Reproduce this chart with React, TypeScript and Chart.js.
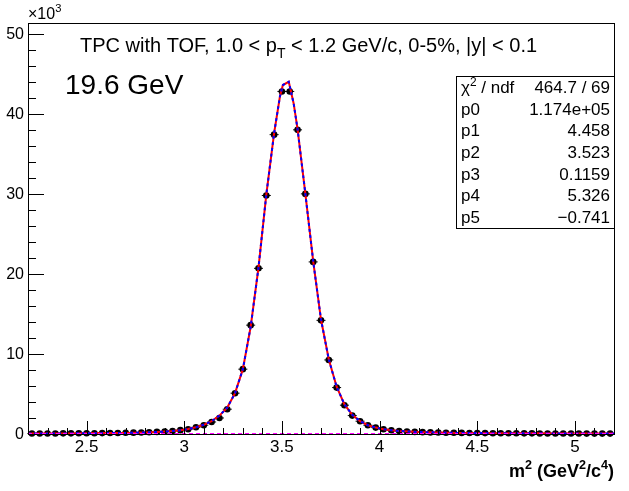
import React, { useEffect, useRef } from "react";
import { Chart, registerables } from "chart.js";
Chart.register(...registerables);

// m^2 bin centers (GeV^2/c^4)
const binCenters = [
  2.22, 2.26, 2.30, 2.34, 2.38, 2.42, 2.46, 2.50, 2.54, 2.58, 2.62, 2.66, 2.70, 2.74, 2.78,
  2.82, 2.86, 2.90, 2.94, 2.98, 3.02, 3.06, 3.10, 3.14, 3.18, 3.22, 3.26, 3.30, 3.34, 3.38,
  3.42, 3.46, 3.50, 3.54, 3.58, 3.62, 3.66, 3.70, 3.74, 3.78, 3.82, 3.86, 3.90, 3.94, 3.98,
  4.02, 4.06, 4.10, 4.14, 4.18, 4.22, 4.26, 4.30, 4.34, 4.38, 4.42, 4.46, 4.50, 4.54, 4.58,
  4.62, 4.66, 4.70, 4.74, 4.78, 4.82, 4.86, 4.90, 4.94, 4.98, 5.02, 5.06, 5.10, 5.14, 5.18,
];
// counts (x10^3)
const counts = [
  0.06, 0.06, 0.07, 0.07, 0.08, 0.08, 0.09, 0.09, 0.10, 0.11, 0.12, 0.13, 0.15, 0.17, 0.19,
  0.22, 0.26, 0.31, 0.38, 0.48, 0.59, 0.84, 1.1, 1.5, 2.0, 3.1, 5.1, 8.1, 13.6, 20.7,
  29.8, 37.4, 42.8, 42.8, 38.0, 30.0, 21.5, 14.2, 9.25, 5.8, 3.6, 2.3, 1.6, 1.1, 0.8,
  0.6, 0.46, 0.37, 0.3, 0.26, 0.23, 0.2, 0.18, 0.16, 0.15, 0.14, 0.13, 0.12, 0.11, 0.1,
  0.1, 0.09, 0.09, 0.08, 0.08, 0.07, 0.07, 0.07, 0.06, 0.06, 0.06, 0.05, 0.05, 0.05, 0.05,
];
// fit curve
const fitM2 = [
  2.2, 2.4, 2.6, 2.7, 2.8, 2.86, 2.9, 2.94, 2.98, 3.02, 3.06, 3.1, 3.14, 3.18, 3.22, 3.26,
  3.3, 3.34, 3.38, 3.42, 3.46, 3.49, 3.505, 3.535, 3.56, 3.58, 3.62, 3.66, 3.7, 3.74, 3.78,
  3.82, 3.86, 3.9, 3.94, 3.98, 4.02, 4.06, 4.1, 4.2, 4.4, 4.6, 4.8, 5.0, 5.2,
];
const fitCounts = [
  0.05, 0.07, 0.11, 0.14, 0.2, 0.25, 0.31, 0.38, 0.48, 0.62, 0.84, 1.15, 1.6, 2.3, 3.3, 5.1,
  8.1, 13.4, 20.8, 29.9, 37.6, 42.2, 43.6, 44.0, 41.3, 38.1, 30.0, 21.6, 14.3, 9.3, 5.9,
  3.7, 2.4, 1.6, 1.1, 0.8, 0.6, 0.47, 0.38, 0.25, 0.14, 0.1, 0.08, 0.06, 0.05,
];
const baselineM2 = [2.2, 5.2];
const baselineCounts = [0, 0];

const yMajorTicks = [0, 10, 20, 30, 40, 50];
const yTickLabels = ["0", "10", "20", "30", "40", "50"];
const xMajorTicks = [2.5, 3, 3.5, 4, 4.5, 5];
const xTickLabels = ["2.5", "3", "3.5", "4", "4.5", "5"];
const statLabels = ["p0", "p1", "p2", "p3", "p4", "p5"];
const statValues = ["1.174e+05", "4.458", "3.523", "0.1159", "5.326", "\u22120.741"];
const chiValue = "464.7 / 69";

const FONT = "'Liberation Sans', Arial, Helvetica, sans-serif";

type Part = { t: string; sup?: boolean; sub?: boolean };

function drawRich(ctx: CanvasRenderingContext2D, parts: Part[], x: number, y: number, size: number, bold: boolean, align: "left" | "right") {
  const setFont = (p: Part) => {
    const s = p.sup || p.sub ? size * 0.7 : size;
    ctx.font = `${bold ? "bold " : ""}${s}px ${FONT}`;
  };
  let total = 0;
  parts.forEach((p) => {
    setFont(p);
    total += ctx.measureText(p.t).width;
  });
  let cx = align === "left" ? x : x - total;
  ctx.textAlign = "left";
  ctx.textBaseline = "alphabetic";
  parts.forEach((p) => {
    setFont(p);
    const dy = p.sup ? -size * 0.42 : p.sub ? size * 0.3 : 0;
    ctx.fillText(p.t, cx, y + dy);
    cx += ctx.measureText(p.t).width;
  });
}

const rootPlugin = {
  id: "rootStyle",
  afterDraw(chart: any) {
    const ctx = chart.ctx as CanvasRenderingContext2D;
    const xs = chart.scales.x;
    const ys = chart.scales.y;
    const a = chart.chartArea;
    ctx.save();
    ctx.strokeStyle = "#000";
    ctx.fillStyle = "#000";
    ctx.lineWidth = 1;
    // frame
    ctx.strokeRect(Math.round(a.left) + 0.5, Math.round(a.top) + 0.5, Math.round(a.right - a.left), Math.round(a.bottom - a.top));
    // y ticks
    ctx.beginPath();
    for (let v = 0; v <= ys.max + 1e-9; v += 2) {
      const py = Math.round(ys.getPixelForValue(v)) + 0.5;
      const major = Math.abs(v % 10) < 1e-9;
      ctx.moveTo(a.left, py);
      ctx.lineTo(a.left + (major ? 16 : 8), py);
    }
    // x ticks
    for (let i = 0; ; i++) {
      const v = 2.3 + i * 0.1;
      if (v > xs.max + 1e-9) break;
      const px = Math.round(xs.getPixelForValue(v)) + 0.5;
      const major = xMajorTicks.some((m) => Math.abs(m - v) < 1e-6);
      ctx.moveTo(px, a.bottom);
      ctx.lineTo(px, a.bottom - (major ? 13 : 6));
    }
    ctx.stroke();
    // y labels
    ctx.font = `16px ${FONT}`;
    ctx.textAlign = "right";
    ctx.textBaseline = "middle";
    yMajorTicks.forEach((v, i) => {
      ctx.fillText(yTickLabels[i], a.left - 4, ys.getPixelForValue(v) + 1);
    });
    // x labels
    ctx.font = `17px ${FONT}`;
    ctx.textAlign = "center";
    ctx.textBaseline = "top";
    xMajorTicks.forEach((v, i) => {
      ctx.fillText(xTickLabels[i], xs.getPixelForValue(v), a.bottom + 5);
    });
    // exponent
    drawRich(ctx, [{ t: "\u00d710" }, { t: "3", sup: true }], a.left, 19, 16, false, "left");
    // x title
    drawRich(
      ctx,
      [{ t: "m" }, { t: "2", sup: true }, { t: " (GeV" }, { t: "2", sup: true }, { t: "/c" }, { t: "4", sup: true }, { t: ")" }],
      a.right,
      477,
      18,
      true,
      "right"
    );
    // title
    drawRich(
      ctx,
      [{ t: "TPC with TOF, 1.0 < p" }, { t: "T", sub: true }, { t: " < 1.2 GeV/c, 0-5%, |y| < 0.1" }],
      80,
      52,
      20,
      false,
      "left"
    );
    // energy label
    ctx.font = `28px ${FONT}`;
    ctx.textAlign = "left";
    ctx.textBaseline = "alphabetic";
    ctx.fillText("19.6 GeV", 65, 94);
    // stats box
    const bx = 456, by = 76, bw = a.right - 456, bh = 152;
    ctx.fillStyle = "#fff";
    ctx.fillRect(bx, by, bw, bh);
    ctx.strokeRect(bx + 0.5, by + 0.5, bw, bh);
    ctx.fillStyle = "#000";
    const rowH = bh / 7;
    const base = (r: number) => by + rowH * (r + 0.5) + 6;
    drawRich(ctx, [{ t: "\u03c7" }, { t: "2", sup: true }, { t: " / ndf" }], bx + 5, base(0), 17, false, "left");
    drawRich(ctx, [{ t: chiValue }], a.right - 4, base(0), 17, false, "right");
    statLabels.forEach((l, i) => {
      drawRich(ctx, [{ t: l }], bx + 5, base(i + 1), 17, false, "left");
      drawRich(ctx, [{ t: statValues[i] }], a.right - 4, base(i + 1), 17, false, "right");
    });
    ctx.restore();
  },
};

export default function App() {
  const ref = useRef<HTMLCanvasElement | null>(null);
  useEffect(() => {
    if (!ref.current) return;
    const pts = binCenters.map((x, i) => ({ x, y: counts[i] }));
    const chart = new Chart(ref.current, {
      type: "scatter",
      data: {
        datasets: [
          {
            data: baselineM2.map((x, i) => ({ x, y: baselineCounts[i] })),
            showLine: true,
            borderColor: "#ff00ff",
            borderWidth: 2,
            borderDash: [4, 3],
            pointRadius: 0,
            clip: false,
            order: 1,
          } as any,
          {
            data: fitM2.map((x, i) => ({ x, y: fitCounts[i] })),
            showLine: true,
            borderColor: "#0000ff",
            borderWidth: 2,
            borderDash: [3, 3],
            pointRadius: 0,
            order: 2,
          },
          {
            data: fitM2.map((x, i) => ({ x, y: fitCounts[i] })),
            showLine: true,
            borderColor: "#ff0000",
            borderWidth: 2,
            pointRadius: 0,
            order: 3,
          },
          {
            data: pts,
            pointStyle: "line",
            pointRadius: 4.5,
            borderColor: "#000",
            borderWidth: 1,
            clip: false,
            order: 4,
          } as any,
          {
            data: pts,
            pointStyle: "circle",
            pointRadius: 3.3,
            backgroundColor: "#000",
            borderColor: "#000",
            borderWidth: 0,
            clip: false,
            order: 5,
          } as any,
        ],
      },
      options: {
        animation: false,
        responsive: false,
        events: [],
        layout: { padding: { left: 28, right: 15, top: 23, bottom: 57 } },
        plugins: { legend: { display: false }, tooltip: { enabled: false } },
        scales: {
          x: { type: "linear", min: 2.2, max: 5.2, display: false },
          y: { type: "linear", min: 0, max: 51.35, display: false },
        },
      },
      plugins: [rootPlugin],
    });
    return () => chart.destroy();
  }, []);
  return (
    <div style={{ position: "absolute", left: 0, top: 0, width: 629, height: 491, background: "#fff" }}>
      <canvas ref={ref} width={629} height={491} />
    </div>
  );
}
